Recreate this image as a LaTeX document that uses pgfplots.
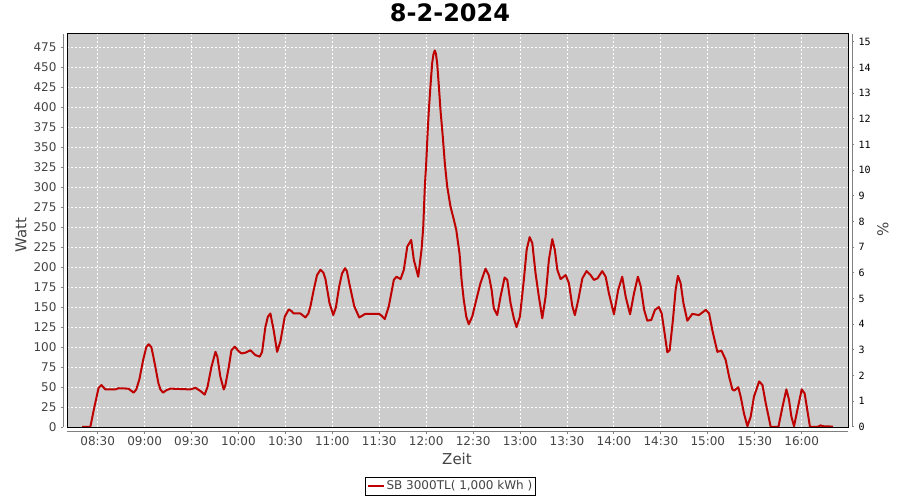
\documentclass[border=0pt]{standalone}
\usepackage{fontspec}
\setmainfont{DejaVu Sans}
\newfontfamily\monofont{DejaVu Sans Mono}
\usepackage{pgfplots}
\pgfplotsset{compat=1.18}
\definecolor{plotbg}{RGB}{204,204,204}
\definecolor{linered}{RGB}{190,0,0}
\definecolor{txtgray}{RGB}{68,68,68}
\definecolor{axgray}{RGB}{128,128,128}
\begin{document}
\begin{tikzpicture}
\path[use as bounding box] (0,0) rectangle (900bp,500bp);
\begin{axis}[
  name=main,
  at={(67bp,73bp)}, anchor=south west,
  scale only axis, width=781bp, height=393bp,
  xmin=490.4, xmax=989.6, ymin=0, ymax=491.6,
  axis background/.style={fill=plotbg},
  axis line style={black, line width=1bp},
  grid=major,
  major grid style={white, line width=1bp, dash pattern=on 2bp off 2bp},
  xtick={510,540,570,600,630,660,690,720,750,780,810,840,870,900,930,960},
  xticklabels={08:30,09:00,09:30,10:00,10:30,11:00,11:30,12:00,12:30,13:00,13:30,14:00,14:30,15:00,15:30,16:00},
  ytick={0,25,...,475},
  xtick pos=left, ytick pos=left,
  tick align=outside, major tick length=2bp,
  tick style={axgray, line width=1bp},
  xtick style={yshift=-4.5bp},
  ytick style={xshift=-4bp},
  /pgf/number format/assume math mode=true,
  xticklabel style={font=\fontsize{12bp}{14bp}\selectfont, text=txtgray, yshift=-4bp},
  yticklabel style={font=\fontsize{12bp}{14bp}\selectfont, text=txtgray, xshift=-5bp},
  legend style={at={(0.491,-0.127)}, anchor=north, draw=black, line width=0.8bp,
    font=\fontsize{12bp}{14bp}\selectfont, text=txtgray, inner sep=1.5bp},
  legend image code/.code={\draw[#1] (0bp,0bp) -- (16bp,0bp);},
]
\addplot[linered, line width=2bp, line join=round] coordinates {
(500,0) (505.3,0) (507.9,25) (510.6,49) (512.4,52.5) (514.9,47) (521.3,47) (523.3,48.5)
(529.6,48) (531,46) (533,43) (534.7,47) (536.7,60) (539.2,85) (541.1,100) (542.6,103.5)
(544.3,100) (545.6,88) (546.9,75) (548.8,55) (550.1,47) (551.8,43) (553.9,46) (556.5,48)
(562.9,47.5) (569.3,47) (572.5,49) (575.7,45) (578.4,40.5) (580.2,50) (582.7,75) (585.3,94)
(586.5,88) (588.4,63) (590.6,47) (591.6,52) (593.8,75) (595.5,96) (597.6,100.5) (600,95)
(601.9,92) (604.5,93) (607.6,96) (610.8,90) (613.6,88) (615.1,94) (617.2,125) (618.8,138)
(620.4,142) (622.5,121) (624.7,94) (626.8,107) (629.6,138) (632.1,147) (633.9,145) (635.3,142)
(639.6,142) (642.8,137) (644.7,142) (646,151) (648.1,171.5) (650.2,190) (652.4,196.6) (654.3,193)
(655.6,185) (658.2,155) (660.6,140) (662.3,150) (664.4,176) (666.2,192) (668.1,198.6) (669.3,195)
(670.8,180) (674,151) (677.2,137) (678.9,139) (681,141.5) (689.9,141.5) (691.6,139) (693.5,135)
(696.1,151) (699.3,184) (701,188) (703.6,185) (705.7,196.6) (707.9,225.7) (710.4,234) (712.1,209)
(714.9,188) (717,221.6) (718.1,250) (719.1,300) (720,330) (721,372) (721.7,397) (722.7,426)
(723.8,455) (724.6,466) (725.5,471) (726.2,467) (727,455) (728.1,426) (729.1,397) (730.6,363)
(731.9,330) (733.4,301) (735.5,276) (737.7,259) (739.2,246.6) (739.8,238) (741.3,217) (742.6,184)
(744,159) (745.6,138) (747.2,128.6) (749.4,138) (752,159) (754.7,180) (757.9,198) (760,190)
(761.8,171.5) (763.2,148.6) (765.4,140) (767.5,163) (770.1,187) (771.8,184) (773.9,155) (776,136)
(777.7,125) (779.9,138) (782.4,184) (784.2,221.6) (786.1,237.5) (787.8,230) (789.9,192) (792,163)
(794.2,136) (796.3,163) (798.4,209) (800.6,235) (802.2,221.6) (803.8,196.6) (805.9,185) (809.1,190)
(811.2,180) (813.4,151) (815,140) (817.2,159) (819.8,186) (822.5,195) (825.1,190) (827.2,184)
(829.5,186) (832.5,195) (834.7,188) (836.8,167) (840,141) (842.7,171.5) (845.3,188) (847.5,163)
(850.3,141) (852.8,167) (855.3,188) (857.1,176) (859.3,146.5) (861.3,133) (863.9,134) (866.2,146.5)
(868.7,150) (870.5,142) (872.4,117) (874.1,93.5) (875.6,96) (877.7,134) (879.4,171.5) (880.9,189)
(882.6,180) (884.4,155) (886.9,133) (890.1,141.5) (894.3,140) (898.7,146.5) (900.8,142) (903,120)
(906.1,94) (908.7,95.5) (911.4,84) (913.6,63) (915.7,47) (916.8,45.5) (919.5,49.7) (921,38)
(923.1,17) (925.3,1) (927.4,13) (929.5,38) (932.8,57) (934.9,52.6) (937,30) (940.2,0)
(945.1,0) (947.7,25) (950.2,47) (951.9,34) (953.4,13) (955.1,1) (957.2,21) (960,47)
(961.9,42) (963.6,21) (965.3,0) (970,0) (972.1,2) (973.4,1) (980,0.5)
};
\addlegendentry{SB 3000TL( 1,000 kWh )}
\end{axis}
\begin{axis}[
  at={(67bp,73bp)}, anchor=south west,
  scale only axis, width=781bp, height=393bp,
  xmin=490.4, xmax=989.6, ymin=0, ymax=15.3,
  axis x line=none, axis y line*=right,
  axis line style={draw=none},
  ytick={0,1,...,15},
  tick align=outside, major tick length=2bp,
  ytick style={axgray, line width=1bp, xshift=4bp},
  /pgf/number format/assume math mode=true,
  yticklabel style={font=\monofont\fontsize{10bp}{12bp}\selectfont, text=black, xshift=5bp},
]
\end{axis}
\draw[axgray, line width=1bp] ([xshift=-4bp]main.south west) -- ([xshift=-4bp]main.north west);
\draw[axgray, line width=1bp] ([xshift=4bp]main.south east) -- ([xshift=4bp]main.north east);
\draw[axgray, line width=1bp] ([yshift=-4.5bp]main.south west) -- ([yshift=-4.5bp]main.south east);
\node[font=\bfseries\fontsize{24bp}{28bp}\selectfont, anchor=base] at (450bp,478bp) {8-2-2024};
\node[rotate=90, font=\fontsize{15bp}{18bp}\selectfont, text=txtgray] at (21bp,265bp) {Watt};
\node[rotate=90, font=\fontsize{15bp}{18bp}\selectfont, text=txtgray] at (883bp,271bp) {\%};
\node[font=\fontsize{15bp}{18bp}\selectfont, text=txtgray] at (457bp,41bp) {Zeit};
\end{tikzpicture}
\end{document}
